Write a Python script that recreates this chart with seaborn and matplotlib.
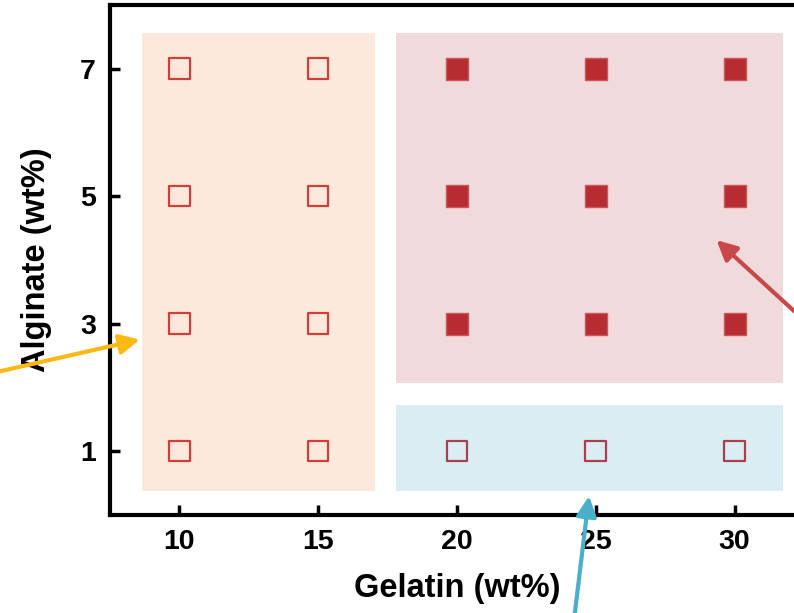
import pandas as pd
import numpy as np
import matplotlib
matplotlib.use('Agg')
import matplotlib.pyplot as plt
from matplotlib.patches import Rectangle
import seaborn as sns

# Data
gelatin = [10, 15, 20, 25, 30]
alginate = [1, 3, 5, 7]
x_ticks = [10, 15, 20, 25, 30]
y_ticks = [1, 3, 5, 7]

rows = []
for g in gelatin:
    for a in alginate:
        if g < 20:
            state = 'low'
        elif a == 1:
            state = 'thin'
        else:
            state = 'gel'
        rows.append({'Gelatin': g, 'Alginate': a, 'state': state})
df = pd.DataFrame(rows)

sns.set_style('white')
plt.rcParams['font.family'] = ['Liberation Sans', 'DejaVu Sans']
plt.rcParams['font.weight'] = 'bold'
plt.rcParams['text.color'] = 'black'
plt.rcParams['axes.labelcolor'] = 'black'
plt.rcParams['xtick.color'] = 'black'
plt.rcParams['ytick.color'] = 'black'

fig = plt.figure(figsize=(7.94, 6.13), dpi=100)
ax = fig.add_axes([0.1385, 0.160, 0.874, 0.832])

# Background regions
ax.add_patch(Rectangle((8.67, 0.37), 17.03 - 8.67, 7.56 - 0.37,
                       facecolor='#FCE9DB', edgecolor='none', zorder=0))
ax.add_patch(Rectangle((17.82, 2.07), 31.73 - 17.82, 7.56 - 2.07,
                       facecolor='#F0DADB', edgecolor='none', zorder=0))
ax.add_patch(Rectangle((17.82, 0.37), 31.73 - 17.82, 1.72 - 0.37,
                       facecolor='#DAEDF2', edgecolor='none', zorder=0))

# Points
sns.scatterplot(data=df[df['state'] == 'low'], x='Gelatin', y='Alginate', marker='s',
                s=220, facecolor='none', edgecolor='#C8413B', linewidth=1.6, ax=ax, zorder=3)
sns.scatterplot(data=df[df['state'] == 'thin'], x='Gelatin', y='Alginate', marker='s',
                s=220, facecolor='none', edgecolor='#A8414E', linewidth=1.6, ax=ax, zorder=3)
sns.scatterplot(data=df[df['state'] == 'gel'], x='Gelatin', y='Alginate', marker='s',
                s=240, color='#B72C31', edgecolor='#C9585C', linewidth=1.0, ax=ax, zorder=3)

# Arrows
ax.annotate('', xy=(8.67, 2.76), xytext=(3.0, 2.20), annotation_clip=False,
            arrowprops=dict(arrowstyle='-|>', color='#FDB813', lw=3, mutation_scale=30))
ax.annotate('', xy=(29.28, 4.34), xytext=(33.42, 2.69), annotation_clip=False,
            arrowprops=dict(arrowstyle='-|>', color='#C8484A', lw=3, mutation_scale=30))
ax.annotate('', xy=(24.77, 0.34), xytext=(24.13, -1.96), annotation_clip=False,
            arrowprops=dict(arrowstyle='-|>', color='#4AAFC8', lw=3, mutation_scale=30))

ax.set_xlim(7.5, 32.5)
ax.set_ylim(0, 8)
ax.set_xticks(x_ticks)
ax.set_yticks(y_ticks)
ax.tick_params(bottom=True, left=True, direction='in', length=7, width=2.5,
               labelsize=20.5, pad=10, colors='black')
for lab in ax.get_xticklabels() + ax.get_yticklabels():
    lab.set_fontweight('bold')
for sp in ax.spines.values():
    sp.set_linewidth(3)
    sp.set_color('black')

ax.set_xlabel('Gelatin (wt%)', fontsize=23.5, fontweight='bold', labelpad=13)
ax.set_ylabel('Alginate (wt%)', fontsize=23.5, fontweight='bold', labelpad=20)

fig.savefig('out.png', dpi=100)
